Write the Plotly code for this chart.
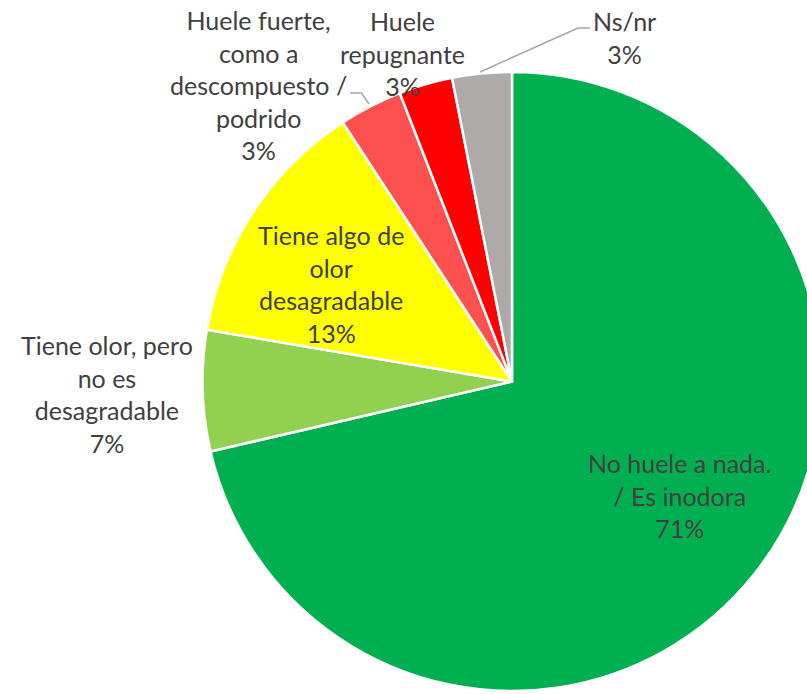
import plotly.graph_objects as go

# ---- data ----
categories = [
    "No huele a nada.<br>/ Es inodora",
    "Tiene olor, pero<br>no es<br>desagradable",
    "Tiene algo de<br>olor<br>desagradable",
    "Huele fuerte,<br>como a<br>descompuesto /<br>podrido",
    "Huele<br>repugnante",
    "Ns/nr",
]
values = [71.3, 6.3, 13.1, 3.3, 2.8, 3.1]
pct_labels = ["71%", "7%", "13%", "3%", "3%", "3%"]

# ---- style ----
colors = ["#00B050", "#92D050", "#FFFF00", "#FF5050", "#FF0000", "#AEAAAA"]
W, H = 830, 694
FONT = "Lato"
TXT = "#404040"

# pie placement (pixels)
cx, cy, r = 512, 381.5, 309.5

fig = go.Figure(go.Pie(
    labels=[c.replace("<br>", " ") for c in categories],
    values=values,
    sort=False,
    direction="clockwise",
    rotation=0,
    marker=dict(colors=colors, line=dict(color="white", width=2.5)),
    textinfo="none",
    hoverinfo="label+percent",
    domain=dict(x=[(cx - r) / W, (cx + r) / W], y=[1 - (cy + r) / H, 1 - (cy - r) / H]),
    showlegend=False,
))

# label centres in pixels (layout)
label_pos = [(679, 495), (107, 394), (331, 284), (258, 85), (402, 53), (624, 37)]

anns = []
for cat, pct, (px, py) in zip(categories, pct_labels, label_pos):
    anns.append(dict(
        x=px / W, y=1 - py / H, xref="paper", yref="paper",
        text=cat + "<br>" + pct, showarrow=False, align="center",
        xanchor="center", yanchor="middle",
        font=dict(family=FONT, size=25, color=TXT),
    ))

def P(px, py):
    return f"{px / W:.5f} {1 - py / H:.5f}"

shapes = [
    dict(type="path", xref="paper", yref="paper",
         path=f"M {P(350, 93)} L {P(361.5, 93)} L {P(369, 104)}",
         line=dict(color="#A6A6A6", width=1.5)),
    dict(type="path", xref="paper", yref="paper",
         path=f"M {P(480, 72)} L {P(578, 28)} L {P(590, 28)}",
         line=dict(color="#A6A6A6", width=1.5)),
]

fig.update_layout(
    width=W, height=H,
    margin=dict(l=0, r=0, t=0, b=0),
    paper_bgcolor="white",
    annotations=anns,
    shapes=shapes,
)

fig.write_html(
    "out.html",
    config=dict(displayModeBar=False),
    post_script="document.documentElement.style.overflow='hidden';document.body.style.overflow='hidden';document.body.style.margin='0';",
)
